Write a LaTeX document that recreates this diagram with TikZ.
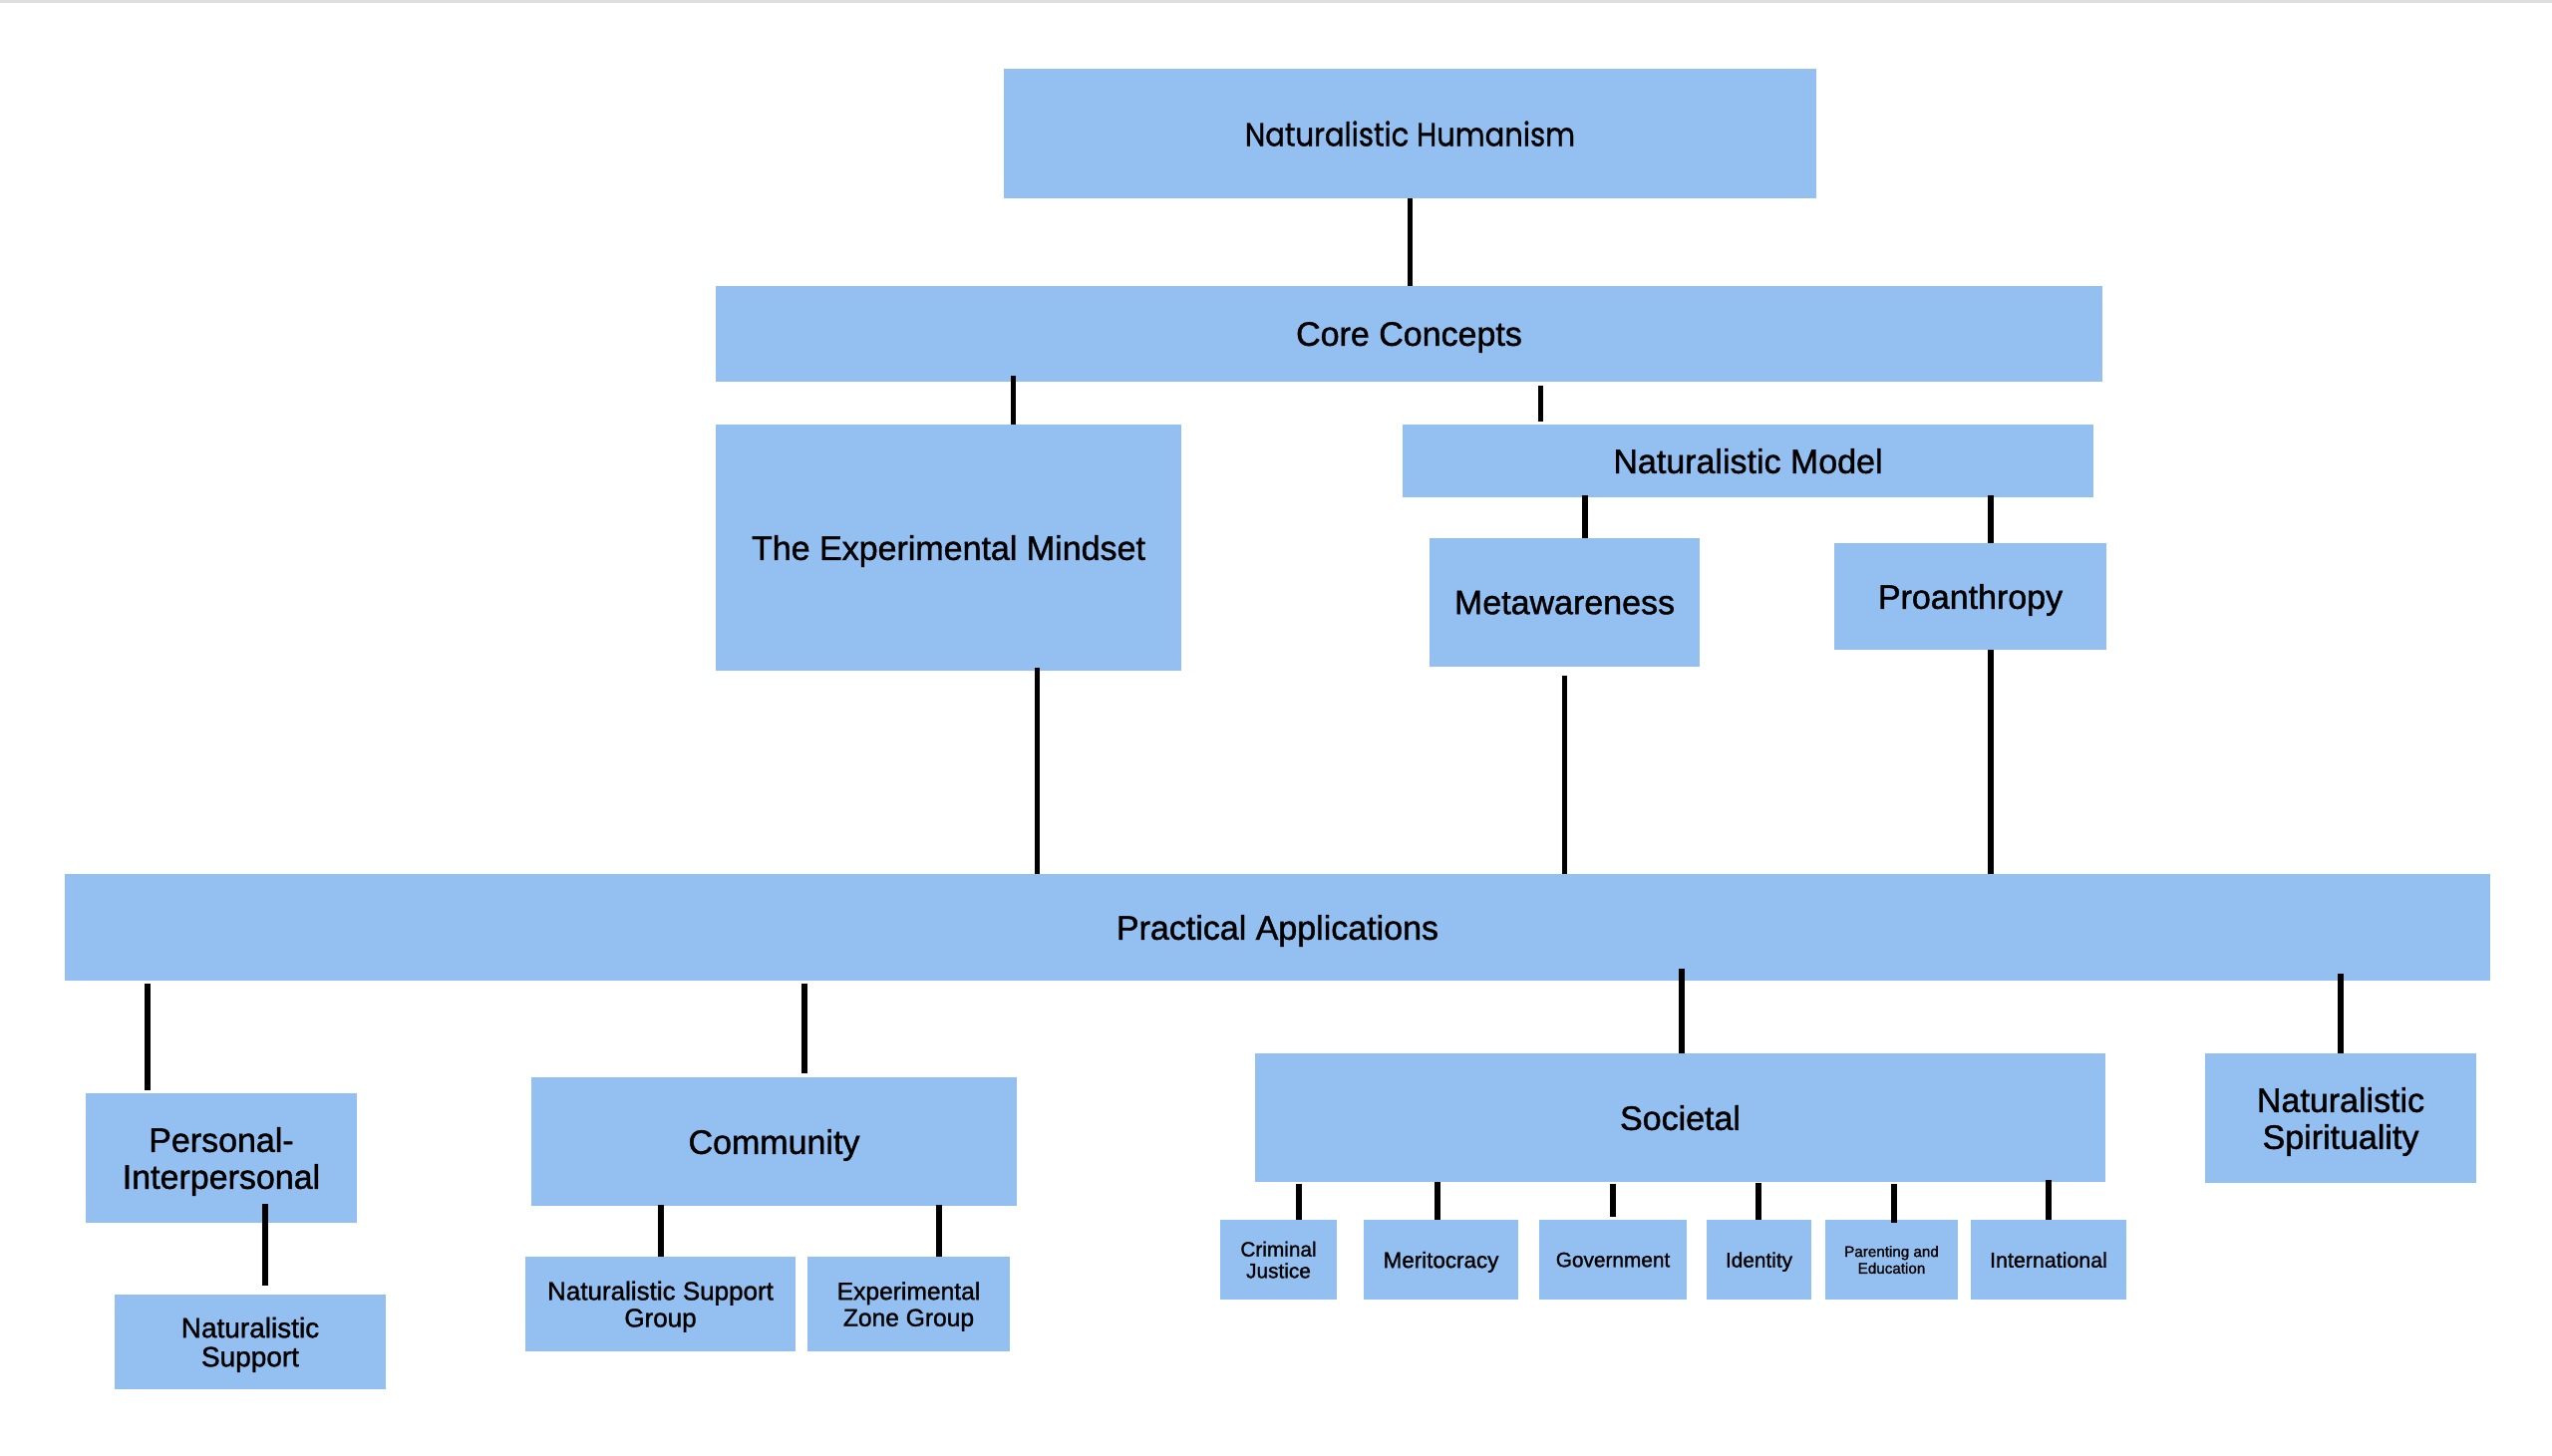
\documentclass[tikz,border=0pt]{standalone}
\usepackage{fontspec}
\setmainfont{Liberation Sans}[FakeBold=1.2]
\newfontfamily\geofont[FakeStretch=0.88,FakeBold=0.9]{Poppins}
\usetikzlibrary{calc}
\definecolor{boxblue}{RGB}{147,192,240}
\begin{document}
\begin{tikzpicture}[x=0.5pt,y=-0.5pt,
  box/.style={fill=boxblue, draw=none, inner sep=0pt, align=center, text=black, anchor=center, text depth=0pt},
  conn/.style={line width=3pt, black},
  thinconn/.style={line width=2.5pt, black},
  fmain/.style={font=\fontsize{17}{18.5}\selectfont},
  fns/.style={font=\fontsize{14}{14.5}\selectfont},
  fnsg/.style={font=\fontsize{13}{13.5}\selectfont},
  fezg/.style={font=\fontsize{12.3}{13.3}\selectfont},
  fleaf/.style={font=\fontsize{10.4}{10.8}\selectfont},
  fsmall/.style={font=\fontsize{7.6}{8.4}\selectfont}]
\useasboundingbox (0,0) rectangle (2560,1461);
\fill[white] (0,0) rectangle (2560,1461);
\draw[line width=1.5pt, black!13] (0,2) -- (2560,2);

% boxes
\node[box, minimum width=407.5pt, minimum height=65pt, font=\geofont\fontsize{16.5}{18}\selectfont] (nh) at (1414.5,134) {Naturalistic Humanism};
\node[box, fmain, minimum width=695.5pt, minimum height=48pt] (cc) at (1413.5,335) {Core Concepts};
\node[box, fmain, minimum width=233.5pt, minimum height=123.5pt] (em) at (951.5,549.5) {The Experimental Mindset};
\node[box, fmain, minimum width=346.5pt, minimum height=36.5pt] (nm) at (1753.5,462.5) {Naturalistic Model};
\node[box, fmain, minimum width=135.5pt, minimum height=64.5pt] (meta) at (1569.5,604.5) {Metawareness};
\node[box, fmain, minimum width=136.5pt, minimum height=53.5pt] (pro) at (1976.5,598.5) {Proanthropy};
\node[box, fmain, minimum width=1216.5pt, minimum height=53.5pt] (pa) at (1281.5,930.5) {Practical Applications};
\node[box, fmain, minimum width=136pt, minimum height=65pt] (pi) at (222,1162) {Personal-\\Interpersonal};
\node[box, fns, minimum width=136pt, minimum height=47.5pt] (ns) at (251,1346.5) {Naturalistic\\Support};
\node[box, fmain, minimum width=243.5pt, minimum height=64.5pt] (com) at (776.5,1145.5) {Community};
\node[box, fnsg, minimum width=135.5pt, minimum height=47.5pt] (nsg) at (662.5,1308.5) {Naturalistic Support\\Group};
\node[box, fezg, minimum width=101.5pt, minimum height=47.5pt] (ezg) at (911.5,1308.5) {Experimental\\Zone Group};
\node[box, fmain, minimum width=426.5pt, minimum height=64.5pt] (soc) at (1685.5,1121.5) {Societal};
\node[box, fleaf, minimum width=58.5pt, minimum height=40pt] (cj) at (1282.5,1264) {Criminal\\Justice};
\node[box, font=\fontsize{11.2}{12}\selectfont, minimum width=77.5pt, minimum height=40pt] (mer) at (1445.5,1264) {Meritocracy};
\node[box, fleaf, minimum width=74pt, minimum height=40pt] (gov) at (1618,1264) {Government};
\node[box, fleaf, minimum width=52.5pt, minimum height=40pt] (idn) at (1764.5,1264) {Identity};
\node[box, fsmall, minimum width=66.5pt, minimum height=40pt] (pe) at (1897.5,1264) {Parenting and\\Education};
\node[box, font=\fontsize{10.7}{11.5}\selectfont, minimum width=78pt, minimum height=40pt] (intl) at (2055,1264) {International};
\node[box, fmain, minimum width=136pt, minimum height=65pt] (nsp) at (2348,1122) {Naturalistic\\Spirituality};

% x positions of connectors
\coordinate (xa) at (1414,0);
\coordinate (xb) at (1016,0);
\coordinate (xc) at (1545,0);
\coordinate (xd) at (1590,0);
\coordinate (xe) at (1997,0);
\coordinate (xf) at (1040,0);
\coordinate (xg) at (1569,0);
\coordinate (xh) at (148,0);
\coordinate (xi) at (807,0);
\coordinate (xj) at (1687,0);
\coordinate (xk) at (2348,0);
\coordinate (xl) at (266,0);
\coordinate (xm) at (663,0);
\coordinate (xn) at (942,0);
\coordinate (s1) at (1303,0);
\coordinate (s2) at (1442,0);
\coordinate (s3) at (1618,0);
\coordinate (s4) at (1764,0);
\coordinate (s5) at (1900,0);
\coordinate (s6) at (2055,0);

% connectors
\draw[thinconn] (xa |- nh.south) -- (xa |- cc.north);
\draw[thinconn, shorten <=-3pt] (xb |- cc.south) -- (xb |- em.north);
\draw[thinconn, shorten <=2pt, shorten >=1.5pt] (xc |- cc.south) -- (xc |- nm.north);
\draw[conn, shorten <=-1pt] (xd |- nm.south) -- (xd |- meta.north);
\draw[conn, shorten <=-1pt] (xe |- nm.south) -- (xe |- pro.north);
\draw[thinconn, shorten <=-1.5pt] (xf |- em.south) -- (xf |- pa.north);
\draw[thinconn, shorten <=4.5pt] (xg |- meta.south) -- (xg |- pa.north);
\draw[conn] (xe |- pro.south) -- (xe |- pa.north);
\draw[conn, shorten <=1.5pt, shorten >=1.5pt] (xh |- pa.south) -- (xh |- pi.north);
\draw[conn, shorten <=1.5pt, shorten >=2pt] (xi |- pa.south) -- (xi |- com.north);
\draw[conn, shorten <=-6pt] (xj |- pa.south) -- (xj |- soc.north);
\draw[conn, shorten <=-3.5pt] (xk |- pa.south) -- (xk |- nsp.north);
\draw[conn, shorten <=-9.5pt, shorten >=4.5pt] (xl |- pi.south) -- (xl |- ns.north);
\draw[conn, shorten <=-0.5pt] (xm |- com.south) -- (xm |- nsg.north);
\draw[conn, shorten <=-0.5pt] (xn |- com.south) -- (xn |- ezg.north);
\draw[conn, shorten <=1pt] (s1 |- soc.south) -- (s1 |- cj.north);
\draw[conn] (s2 |- soc.south) -- (s2 |- mer.north);
\draw[conn, shorten <=1pt, shorten >=1.5pt] (s3 |- soc.south) -- (s3 |- gov.north);
\draw[conn, shorten <=0.5pt] (s4 |- soc.south) -- (s4 |- idn.north);
\draw[conn, shorten <=1pt, shorten >=-1.5pt] (s5 |- soc.south) -- (s5 |- pe.north);
\draw[conn, shorten <=-1pt] (s6 |- soc.south) -- (s6 |- intl.north);
\end{tikzpicture}
\end{document}
